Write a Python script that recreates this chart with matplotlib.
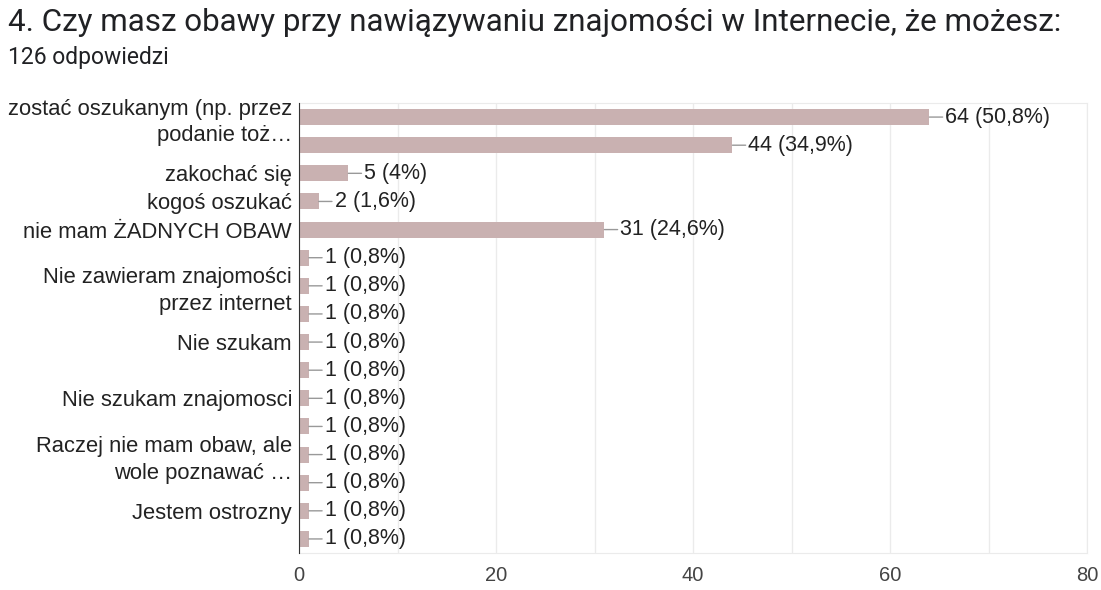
import matplotlib.pyplot as plt

# answers as shown on the chart (hidden labels left empty)
labels = [
    "zostać oszukanym (np. przez\npodanie toż…",
    "",
    "zakochać się",
    "kogoś oszukać",
    "nie mam ŻADNYCH OBAW",
    "",
    "Nie zawieram znajomości\nprzez internet",
    "",
    "Nie szukam",
    "",
    "Nie szukam znajomosci",
    "",
    "Raczej nie mam obaw, ale\nwole poznawać …",
    "",
    "Jestem ostrozny",
    "",
]
counts = [64, 44, 5, 2, 31, 1, 1, 1, 1, 1, 1, 1, 1, 1, 1, 1]
pct_labels = ["50,8%", "34,9%", "4%", "1,6%", "24,6%"] + ["0,8%"] * 11
total = 126

title = "4. Czy masz obawy przy nawiązywaniu znajomości w Internecie, że możesz:"
subtitle = f"{total} odpowiedzi"

bar_color = "#c9b1b1"
text_color = "#222222"
chart_font = ["Liberation Sans", "DejaVu Sans"]

fig = plt.figure(figsize=(11.01, 5.90), dpi=100)
ax = fig.add_axes([0.2716, 0.0627, 0.7157, 0.7627])

y = list(range(len(counts)))
ax.barh(y, counts, height=0.57, color=bar_color, zorder=2)

for i, (c, p) in enumerate(zip(counts, pct_labels)):
    ax.annotate(f"{c} ({p})", xy=(c, i), xytext=(16, 0), textcoords="offset pixels",
                va="center", ha="left", fontsize=15.5, color=text_color, family=chart_font,
                arrowprops=dict(arrowstyle="-", color="#999999", lw=1, shrinkA=0, shrinkB=0))

ax.set_xlim(0, 80)
ax.set_ylim(len(counts) - 0.5, -0.5)
ax.set_xticks([0, 20, 40, 60, 80])
ax.set_xticks(range(10, 80, 20), minor=True)
ax.grid(axis="x", which="both", color="#ebebeb", lw=1, zorder=0)
ax.set_yticks(y)
ax.set_yticklabels(labels, fontsize=15.8, color=text_color, family=chart_font, linespacing=1.35)
ax.tick_params(axis="y", length=0, pad=5)
ax.tick_params(axis="x", which="both", length=0, pad=9, labelsize=14.5, labelcolor="#444444")
for lbl in ax.get_xticklabels():
    lbl.set_family(chart_font)

for side in ["top", "right", "bottom"]:
    ax.spines[side].set_color("#ebebeb")
ax.spines["left"].set_color("#333333")
ax.spines["left"].set_zorder(3)

fig.text(0.0073, 0.962, title, fontsize=22.6, color="#202124", family=["Roboto", "DejaVu Sans"], va="center")
fig.text(0.0073, 0.903, subtitle, fontsize=16.5, color="#202124", family=["Roboto", "DejaVu Sans"], va="center")

fig.savefig("out.png", dpi=100)
